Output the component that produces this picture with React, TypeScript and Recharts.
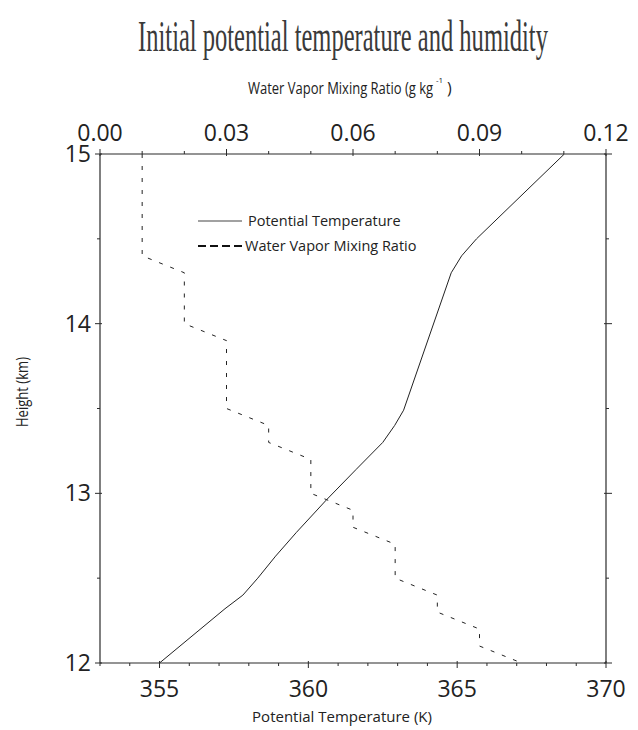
import React from 'react';
import { ComposedChart, Scatter, XAxis, YAxis } from 'recharts';

// Potential temperature profile (height km -> K)
const ptHeights = [12.0, 12.32, 12.4, 12.5, 12.63, 12.77, 12.96, 13.14, 13.3, 13.4, 13.49, 14.3, 14.4, 14.5, 15.0];
const ptValues = [355.0, 357.2, 357.8, 358.3, 358.9, 359.6, 360.6, 361.6, 362.5, 362.9, 363.2, 364.8, 365.15, 365.65, 368.6];

// Water vapor mixing ratio profile (height km -> g/kg)
const wvHeights = [15.0, 14.4, 14.3, 14.0, 13.9, 13.5, 13.4, 13.3, 13.2, 13.0, 12.9, 12.8, 12.7, 12.5, 12.4, 12.3, 12.2, 12.1, 12.0];
const wvValues = [0.01, 0.01, 0.02, 0.02, 0.03, 0.03, 0.04, 0.04, 0.05, 0.05, 0.06, 0.06, 0.07, 0.07, 0.08, 0.08, 0.09, 0.09, 0.1];

// Axis ticks
const tempTicks = [353, 354, 355, 356, 357, 358, 359, 360, 361, 362, 363, 364, 365, 366, 367, 368, 369, 370];
const tempMajor = [355, 360, 365, 370];
const wvTicks = [0, 0.01, 0.02, 0.03, 0.04, 0.05, 0.06, 0.07, 0.08, 0.09, 0.1, 0.11, 0.12];
const wvMajorLabels = ['0.00', '0.03', '0.06', '0.09', '0.12'];
const heightTicks = [12, 12.5, 13, 13.5, 14, 14.5, 15];
const heightMajor = [12, 13, 14, 15];

const ptData = ptHeights.map((h, i) => ({ h, t: ptValues[i] }));
const wvData = wvHeights.map((h, i) => ({ h, q: wvValues[i] }));

const AX = '#2b2b2b';
const TXT = '#222';
const FONT = '"Open Sans", "Noto Sans", sans-serif';

const BottomTick = (props: any) => {
  const { x, y, payload } = props;
  const v = payload.value;
  const major = tempMajor.includes(v);
  return (
    <g>
      <line x1={x} x2={x} y1={major ? y - 2 : y} y2={major ? y + 5 : y + 3} stroke={AX} strokeWidth={1} />
      {major && (
        <text x={x} y={y + 34} textAnchor="middle" fontSize={23} fontFamily={FONT} fill={TXT}>
          {v}
        </text>
      )}
    </g>
  );
};

const TopTick = (props: any) => {
  const { x, y, index } = props;
  const idx = index as number;
  const major = idx % 3 === 0;
  return (
    <g>
      <line x1={x} x2={x} y1={major ? y + 2 : y} y2={major ? y - 5 : y - 3} stroke={AX} strokeWidth={1} />
      {major && (
        <text x={x} y={y - 13} textAnchor="middle" fontSize={23} fontFamily={FONT} fill={TXT}>
          {wvMajorLabels[idx / 3]}
        </text>
      )}
    </g>
  );
};

const LeftTick = (props: any) => {
  const { x, y, payload } = props;
  const v = payload.value;
  const major = heightMajor.includes(v);
  return (
    <g>
      <line x1={major ? x + 2 : x} x2={major ? x - 5 : x - 3} y1={y} y2={y} stroke={AX} strokeWidth={1} />
      {major && (
        <text x={x - 9} y={y + 8} textAnchor="end" fontSize={23} fontFamily={FONT} fill={TXT}>
          {v}
        </text>
      )}
    </g>
  );
};

const RightTick = (props: any) => {
  const { x, y, payload } = props;
  const v = payload.value;
  const major = heightMajor.includes(v);
  return (
    <g>
      <line x1={major ? x - 2 : x} x2={major ? x + 6 : x + 3} y1={y} y2={y} stroke={AX} strokeWidth={1} />
    </g>
  );
};

const NoDot = () => <g />;

export default function App() {
  return (
    <div style={{ position: 'absolute', left: 0, top: 0, width: 638, height: 730, background: '#fff' }}>
      <ComposedChart
        width={638}
        height={730}
        margin={{ top: 124, right: 22, bottom: 37, left: 40 }}
      >
        <XAxis
          xAxisId="t"
          dataKey="t"
          type="number"
          orientation="bottom"
          domain={[353, 370]}
          ticks={tempTicks}
          interval={0}
          tickSize={0}
          tickMargin={0}
          tickLine={false}
          height={30}
          axisLine={{ stroke: AX, strokeWidth: 1.2 }}
          tick={BottomTick}
          allowDataOverflow
        />
        <XAxis
          xAxisId="q"
          dataKey="q"
          type="number"
          orientation="top"
          domain={[0, 0.12]}
          ticks={wvTicks}
          interval={0}
          tickSize={0}
          tickMargin={0}
          tickLine={false}
          height={30}
          axisLine={{ stroke: AX, strokeWidth: 1.2 }}
          tick={TopTick}
          allowDataOverflow
        />
        <YAxis
          yAxisId="l"
          dataKey="h"
          type="number"
          orientation="left"
          domain={[12, 15]}
          ticks={heightTicks}
          interval={0}
          tickSize={0}
          tickMargin={0}
          tickLine={false}
          width={60}
          axisLine={{ stroke: AX, strokeWidth: 1.2 }}
          tick={LeftTick}
          allowDataOverflow
        />
        <YAxis
          yAxisId="r"
          dataKey="h"
          type="number"
          orientation="right"
          domain={[12, 15]}
          ticks={heightTicks}
          interval={0}
          tickSize={0}
          tickMargin={0}
          tickLine={false}
          width={10}
          axisLine={{ stroke: AX, strokeWidth: 1.2 }}
          tick={RightTick}
          allowDataOverflow
        />
        <Scatter
          name="Potential Temperature"
          data={ptData}
          xAxisId="t"
          yAxisId="l"
          dataKey="t"
          line={{ stroke: '#222', strokeWidth: 1 }}
          lineType="joint"
          shape={NoDot}
          isAnimationActive={false}
        />
        <Scatter
          name="Water Vapor Mixing Ratio"
          data={wvData}
          xAxisId="q"
          yAxisId="r"
          dataKey="q"
          line={{ stroke: '#222', strokeWidth: 1, strokeDasharray: '4 8' }}
          lineType="joint"
          shape={NoDot}
          isAnimationActive={false}
        />
      </ComposedChart>
      <svg
        width={638}
        height={730}
        style={{ position: 'absolute', left: 0, top: 0, pointerEvents: 'none' }}
      >
        <text
          transform="translate(343, 51) scale(0.545, 1)"
          x={0}
          y={0}
          textAnchor="middle"
          fontSize={45}
          fontFamily='"Liberation Serif", "DejaVu Serif", serif'
          fill="#3a3a3a"
        >
          Initial potential temperature and humidity
        </text>
        <text
          x={248}
          y={94}
          fontSize={16}
          fontFamily={FONT}
          fill={TXT}
          textLength={185}
          lengthAdjust="spacingAndGlyphs"
        >
          Water Vapor Mixing Ratio (g kg
        </text>
        <text x={436} y={83} fontSize={8} fontFamily={FONT} fill={TXT}>
          -1
        </text>
        <text x={447} y={94} fontSize={16} fontFamily={FONT} fill={TXT}>
          )
        </text>
        <text
          transform="translate(28, 392) rotate(-90)"
          x={0}
          y={0}
          textAnchor="middle"
          fontSize={17}
          fontFamily={FONT}
          fill={TXT}
          textLength={70}
          lengthAdjust="spacingAndGlyphs"
        >
          Height (km)
        </text>
        <text x={342} y={722} textAnchor="middle" fontSize={15} fontFamily={FONT} fill={TXT}>
          Potential Temperature (K)
        </text>
        <line x1={198} x2={242} y1={221} y2={221} stroke="#444" strokeWidth={1.2} />
        <text x={248} y={226} fontSize={14.5} fontFamily={FONT} fill={TXT}>
          Potential Temperature
        </text>
        <line x1={198} x2={245} y1={246} y2={246} stroke="#111" strokeWidth={2} strokeDasharray="8 4" />
        <text x={245} y={251} fontSize={14.5} fontFamily={FONT} fill={TXT}>
          Water Vapor Mixing Ratio
        </text>
      </svg>
    </div>
  );
}
